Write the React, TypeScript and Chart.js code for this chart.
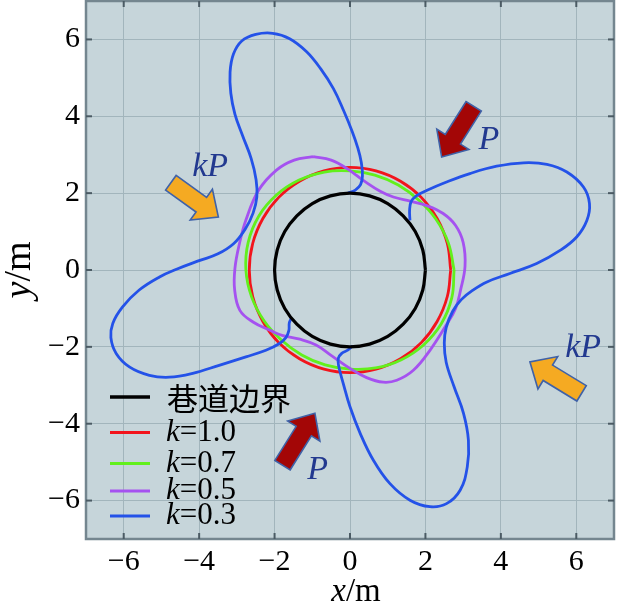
import React, { useEffect, useRef } from 'react';
import { Chart, registerables } from 'chart.js';

Chart.register(...registerables);

// ---------- axes ----------
const AXIS_MIN = -7;
const AXIS_MAX = 7;
const TICK_VALUES = [-6, -4, -2, 0, 2, 4, 6];

// ---------- series ----------
const SERIES_LABELS = ['巷道边界', 'k=1.0', 'k=0.7', 'k=0.5', 'k=0.3'];
const LEGEND_K_VALUES = ['', '1.0', '0.7', '0.5', '0.3'];
const SERIES_COLORS = ['#000000', '#f2141c', '#62f01c', '#a552f0', '#2452e8'];

// tunnel boundary (r = 2 m)
const BOUNDARY_PTS = [
  [2.0, 0.0], [1.93, 0.52], [1.73, 1.0], [1.41, 1.41], [1.0, 1.73], [0.52, 1.93],
  [0.0, 2.0], [-0.52, 1.93], [-1.0, 1.73], [-1.41, 1.41], [-1.73, 1.0], [-1.93, 0.52],
  [-2.0, 0.0], [-1.93, -0.52], [-1.73, -1.0], [-1.41, -1.41], [-1.0, -1.73], [-0.52, -1.93],
  [0.0, -2.0], [0.52, -1.93], [1.0, -1.73], [1.41, -1.41], [1.73, -1.0], [1.93, -0.52],
  [2.0, 0.0],
];

// k = 1.0
const K10_PTS = [
  [2.67, 0.0], [2.58, 0.69], [2.31, 1.34], [1.89, 1.89], [1.34, 2.31], [0.69, 2.58],
  [0.0, 2.67], [-0.69, 2.58], [-1.34, 2.31], [-1.89, 1.89], [-2.31, 1.34], [-2.58, 0.69],
  [-2.67, 0.0], [-2.58, -0.69], [-2.31, -1.34], [-1.89, -1.89], [-1.34, -2.31], [-0.69, -2.58],
  [0.0, -2.67], [0.69, -2.58], [1.34, -2.31], [1.89, -1.89], [2.31, -1.34], [2.58, -0.69],
  [2.67, 0.0],
];

// k = 0.7
const K07_PTS = [
  [2.76, 0.0], [2.61, 0.7], [2.28, 1.32], [1.82, 1.82], [1.28, 2.21], [0.66, 2.47],
  [0.0, 2.58], [-0.68, 2.55], [-1.35, 2.34], [-1.95, 1.95], [-2.42, 1.4], [-2.7, 0.72],
  [-2.76, 0.0], [-2.61, -0.7], [-2.28, -1.32], [-1.82, -1.82], [-1.28, -2.21], [-0.66, -2.47],
  [0.0, -2.58], [0.68, -2.55], [1.35, -2.34], [1.95, -1.95], [2.42, -1.4], [2.7, -0.72],
  [2.76, 0.0],
];

// k = 0.5
const K05_PTS = [
  [-0.98, 2.95], [-0.5, 2.86], [-0.05, 2.62], [0.4, 2.3], [0.8, 2.05], [1.15, 1.9],
  [1.6, 1.79], [2.05, 1.67], [2.47, 1.47], [2.8, 1.16], [3.0, 0.72], [3.05, 0.1],
  [2.93, -0.53], [2.8, -1.0], [2.56, -1.42], [2.12, -2.09], [1.68, -2.61], [1.24, -2.87],
  [0.88, -2.92], [0.44, -2.8], [0.0, -2.56], [-0.53, -2.2], [-0.9, -1.95], [-1.33, -1.8],
  [-1.8, -1.7], [-2.12, -1.57], [-2.56, -1.36], [-2.92, -1.05], [-3.06, -0.5], [-3.05, 0.05],
  [-2.94, 0.65], [-2.76, 1.3], [-2.42, 2.08], [-1.95, 2.6], [-1.48, 2.86], [-0.98, 2.95],
];

// k = 0.3, north-west and south-west lobes
const K03_PTS_A = [
  [-0.05, 2.0], [0.14, 2.08], [0.28, 2.22], [0.33, 2.45], [0.3, 2.8], [0.2, 3.2],
  [0.06, 3.6], [-0.17, 4.15], [-0.44, 4.72], [-0.78, 5.24], [-1.15, 5.68], [-1.6, 6.02],
  [-2.05, 6.16], [-2.5, 6.13], [-2.87, 5.96], [-3.09, 5.62], [-3.18, 5.15], [-3.16, 4.6],
  [-3.05, 4.05], [-2.85, 3.5], [-2.62, 2.9], [-2.49, 2.35], [-2.47, 1.9], [-2.57, 1.48],
  [-2.78, 1.06], [-3.08, 0.69], [-3.5, 0.42], [-3.98, 0.25], [-4.6, 0.02],
  [-5.05, -0.18], [-5.59, -0.52], [-6.03, -0.96], [-6.29, -1.39], [-6.34, -1.76], [-6.2, -2.17],
  [-5.85, -2.52], [-5.32, -2.74], [-4.79, -2.79], [-4.17, -2.69], [-3.47, -2.48], [-2.76, -2.26],
  [-2.23, -2.09], [-1.88, -1.92], [-1.7, -1.76], [-1.62, -1.57], [-1.61, -1.38], [-1.56, -1.26],
];

// k = 0.3, south-east and north-east lobes
const K03_PTS_B = [
  [0.07, -1.97], [-0.05, -2.08], [-0.22, -2.17], [-0.31, -2.3], [-0.3, -2.5], [-0.18, -2.95],
  [0.0, -3.56], [0.27, -4.25], [0.62, -4.95], [1.06, -5.56], [1.59, -5.99], [2.12, -6.16],
  [2.56, -6.08], [2.92, -5.73], [3.11, -5.12], [3.14, -4.43], [3.01, -3.73], [2.76, -3.04],
  [2.55, -2.4], [2.5, -1.9], [2.55, -1.5], [2.72, -1.08], [2.95, -0.77], [3.25, -0.53],
  [3.63, -0.31], [4.24, -0.09], [4.95, 0.17], [5.57, 0.51], [6.01, 0.86], [6.28, 1.29],
  [6.35, 1.73], [6.19, 2.16], [5.75, 2.55], [5.22, 2.75], [4.6, 2.79], [3.89, 2.7],
  [3.18, 2.51], [2.56, 2.29], [2.03, 2.07], [1.76, 1.93], [1.62, 1.78], [1.58, 1.55],
  [1.59, 1.29],
];

// ---------- load arrows (data coordinates) ----------
const ARROW_TAILS = [[3.28, 4.26], [-1.79, -5.08], [-4.75, 2.27], [6.14, -3.21]];
const ARROW_TIPS = [[2.43, 2.94], [-0.93, -3.73], [-3.49, 1.38], [4.77, -2.39]];
const ARROW_FILLS = ['#a30606', '#a30606', '#f5aa22', '#f5aa22'];
const LOAD_LABELS = ['P', 'P', 'kP', 'kP'];
const LOAD_LABEL_POS = [[3.68, 3.37], [-0.86, -5.21], [-3.71, 2.69], [6.18, -2.04]];

// ---------- style ----------
const SERIF = '"Liberation Serif", "Times New Roman", serif';
const CJK = '"Noto Sans CJK SC", sans-serif';
const PLOT_BG = '#c6d5da';
const GRID_COLOR = '#a2b5bc';
const FRAME_COLOR = '#74868f';
const LEGEND_ROWS_Y = [397, 432.5, 463.5, 491, 516];

const tickLabel = (v: number) => (v < 0 ? '\u2212' + Math.abs(v) : String(v));
const toXY = (pts: number[][]) => pts.map(([x, y]) => ({ x, y }));

function drawArrow(ctx: CanvasRenderingContext2D, tx: number, ty: number, hx: number, hy: number, fill: string) {
  const dx = hx - tx;
  const dy = hy - ty;
  const len = Math.hypot(dx, dy);
  const ux = dx / len;
  const uy = dy / len;
  const nx = -uy;
  const ny = ux;
  const sw = 9;
  const hw = 19;
  const hl = 21;
  const bx = hx - ux * hl;
  const by = hy - uy * hl;
  ctx.beginPath();
  ctx.moveTo(tx + nx * sw, ty + ny * sw);
  ctx.lineTo(bx + nx * sw, by + ny * sw);
  ctx.lineTo(bx + nx * hw, by + ny * hw);
  ctx.lineTo(hx, hy);
  ctx.lineTo(bx - nx * hw, by - ny * hw);
  ctx.lineTo(bx - nx * sw, by - ny * sw);
  ctx.lineTo(tx - nx * sw, ty - ny * sw);
  ctx.closePath();
  ctx.fillStyle = fill;
  ctx.fill();
  ctx.lineWidth = 1.6;
  ctx.strokeStyle = '#3f62a8';
  ctx.lineJoin = 'miter';
  ctx.stroke();
}

const decorPlugin = {
  id: 'decor',
  beforeDraw(chart: any) {
    const { ctx, chartArea: a } = chart;
    ctx.save();
    ctx.fillStyle = '#ffffff';
    ctx.fillRect(0, 0, chart.width, chart.height);
    ctx.fillStyle = PLOT_BG;
    ctx.fillRect(a.left, a.top, a.right - a.left, a.bottom - a.top);
    ctx.restore();
  },
  afterDraw(chart: any) {
    const { ctx, chartArea: a, scales } = chart;
    const xs = scales.x;
    const ys = scales.y;
    ctx.save();

    // frame
    ctx.strokeStyle = FRAME_COLOR;
    ctx.lineWidth = 2.5;
    ctx.strokeRect(a.left, a.top, a.right - a.left, a.bottom - a.top);

    // inward tick marks on all four sides
    ctx.strokeStyle = '#4b5b64';
    ctx.lineWidth = 2;
    const seg = (x1: number, y1: number, x2: number, y2: number) => {
      ctx.beginPath();
      ctx.moveTo(x1, y1);
      ctx.lineTo(x2, y2);
      ctx.stroke();
    };
    TICK_VALUES.forEach((v) => {
      const px = xs.getPixelForValue(v);
      const py = ys.getPixelForValue(v);
      seg(px, a.bottom, px, a.bottom - 6);
      seg(px, a.top, px, a.top + 6);
      seg(a.left, py, a.left + 6, py);
      seg(a.right, py, a.right - 6, py);
    });

    // load arrows
    ARROW_TAILS.forEach((t, i) => {
      const h = ARROW_TIPS[i];
      drawArrow(
        ctx,
        xs.getPixelForValue(t[0]),
        ys.getPixelForValue(t[1]),
        xs.getPixelForValue(h[0]),
        ys.getPixelForValue(h[1]),
        ARROW_FILLS[i]
      );
    });

    // load labels
    ctx.fillStyle = '#22398f';
    ctx.font = `italic 34px ${SERIF}`;
    ctx.textAlign = 'center';
    ctx.textBaseline = 'middle';
    LOAD_LABELS.forEach((s, i) => {
      const p = LOAD_LABEL_POS[i];
      ctx.fillText(s, xs.getPixelForValue(p[0]), ys.getPixelForValue(p[1]));
    });

    // legend
    ctx.textAlign = 'left';
    ctx.textBaseline = 'middle';
    SERIES_LABELS.forEach((label, i) => {
      const y = LEGEND_ROWS_Y[i];
      ctx.strokeStyle = SERIES_COLORS[i];
      ctx.lineWidth = i === 0 ? 3.4 : 3;
      seg(110, y, 150, y);
      ctx.fillStyle = '#000000';
      if (i === 0) {
        ctx.font = `31px ${CJK}`;
        ctx.fillText(label, 167, y + 1);
      } else {
        ctx.font = `italic 31px ${SERIF}`;
        ctx.fillText('k', 166, y);
        const w = ctx.measureText('k').width;
        ctx.font = `31px ${SERIF}`;
        ctx.fillText('=' + LEGEND_K_VALUES[i], 166 + w, y);
      }
    });

    // axis titles
    const drawTitle = (v: string, size: number) => {
      ctx.font = `italic ${size}px ${SERIF}`;
      const w1 = ctx.measureText(v).width;
      ctx.font = `${size}px ${SERIF}`;
      const w2 = ctx.measureText('/m').width;
      const start = -(w1 + w2) / 2;
      ctx.font = `italic ${size}px ${SERIF}`;
      ctx.fillText(v, start, 0);
      ctx.font = `${size}px ${SERIF}`;
      ctx.fillText('/m', start + w1, 0);
    };
    ctx.fillStyle = '#000000';
    ctx.textAlign = 'left';
    ctx.textBaseline = 'middle';
    ctx.save();
    ctx.translate(356, 592);
    drawTitle('x', 33);
    ctx.restore();
    ctx.save();
    ctx.translate(20, 270);
    ctx.rotate(-Math.PI / 2);
    drawTitle('y', 38);
    ctx.restore();

    ctx.restore();
  },
};

export default function App() {
  const ref = useRef<HTMLCanvasElement | null>(null);

  useEffect(() => {
    if (!ref.current) return;
    const line = (data: number[][], color: string, width: number, order: number, label: string) => ({
      label,
      data: toXY(data),
      showLine: true,
      borderColor: color,
      backgroundColor: color,
      borderWidth: width,
      pointRadius: 0,
      pointHoverRadius: 0,
      tension: 0.4,
      fill: false,
      order,
    });
    const noPad = (s: any) => {
      s.paddingTop = 0;
      s.paddingBottom = 0;
      s.paddingLeft = 0;
      s.paddingRight = 0;
    };
    const chart = new Chart(ref.current, {
      type: 'scatter',
      data: {
        datasets: [
          line(BOUNDARY_PTS, SERIES_COLORS[0], 3.2, 0, SERIES_LABELS[0]),
          line(K10_PTS, SERIES_COLORS[1], 2.8, 4, SERIES_LABELS[1]),
          line(K07_PTS, SERIES_COLORS[2], 2.8, 3, SERIES_LABELS[2]),
          line(K05_PTS, SERIES_COLORS[3], 2.8, 2, SERIES_LABELS[3]),
          line(K03_PTS_A, SERIES_COLORS[4], 2.8, 1, SERIES_LABELS[4]),
          line(K03_PTS_B, SERIES_COLORS[4], 2.8, 1, SERIES_LABELS[4]),
        ],
      } as any,
      options: {
        animation: false,
        responsive: false,
        maintainAspectRatio: false,
        devicePixelRatio: 1,
        events: [],
        layout: { padding: { top: 1, right: 3, left: 0, bottom: 0 } },
        plugins: { legend: { display: false }, tooltip: { enabled: false } },
        scales: {
          x: {
            type: 'linear',
            min: AXIS_MIN,
            max: AXIS_MAX,
            afterBuildTicks: (s: any) => {
              s.ticks = TICK_VALUES.map((v) => ({ value: v }));
            },
            afterFit: (s: any) => {
              s.height = 68;
              noPad(s);
            },
            grid: { color: GRID_COLOR, lineWidth: 1, drawTicks: false },
            border: { display: false },
            ticks: {
              padding: 5,
              color: '#000000',
              autoSkip: false,
              maxRotation: 0,
              font: { family: SERIF, size: 30 },
              callback: (v: any) => tickLabel(Number(v)),
            },
          },
          y: {
            type: 'linear',
            min: AXIS_MIN,
            max: AXIS_MAX,
            afterBuildTicks: (s: any) => {
              s.ticks = TICK_VALUES.map((v) => ({ value: v }));
            },
            afterFit: (s: any) => {
              s.width = 86;
              noPad(s);
            },
            grid: { color: GRID_COLOR, lineWidth: 1, drawTicks: false },
            border: { display: false },
            ticks: {
              padding: 6,
              color: '#000000',
              autoSkip: false,
              font: { family: SERIF, size: 30 },
              callback: (v: any) => tickLabel(Number(v)),
            },
          },
        },
      } as any,
      plugins: [decorPlugin],
    });
    return () => chart.destroy();
  }, []);

  return (
    <div style={{ position: 'absolute', left: 0, top: 0, width: 617, height: 607 }}>
      <canvas ref={ref} width={617} height={607} style={{ display: 'block' }} />
    </div>
  );
}
